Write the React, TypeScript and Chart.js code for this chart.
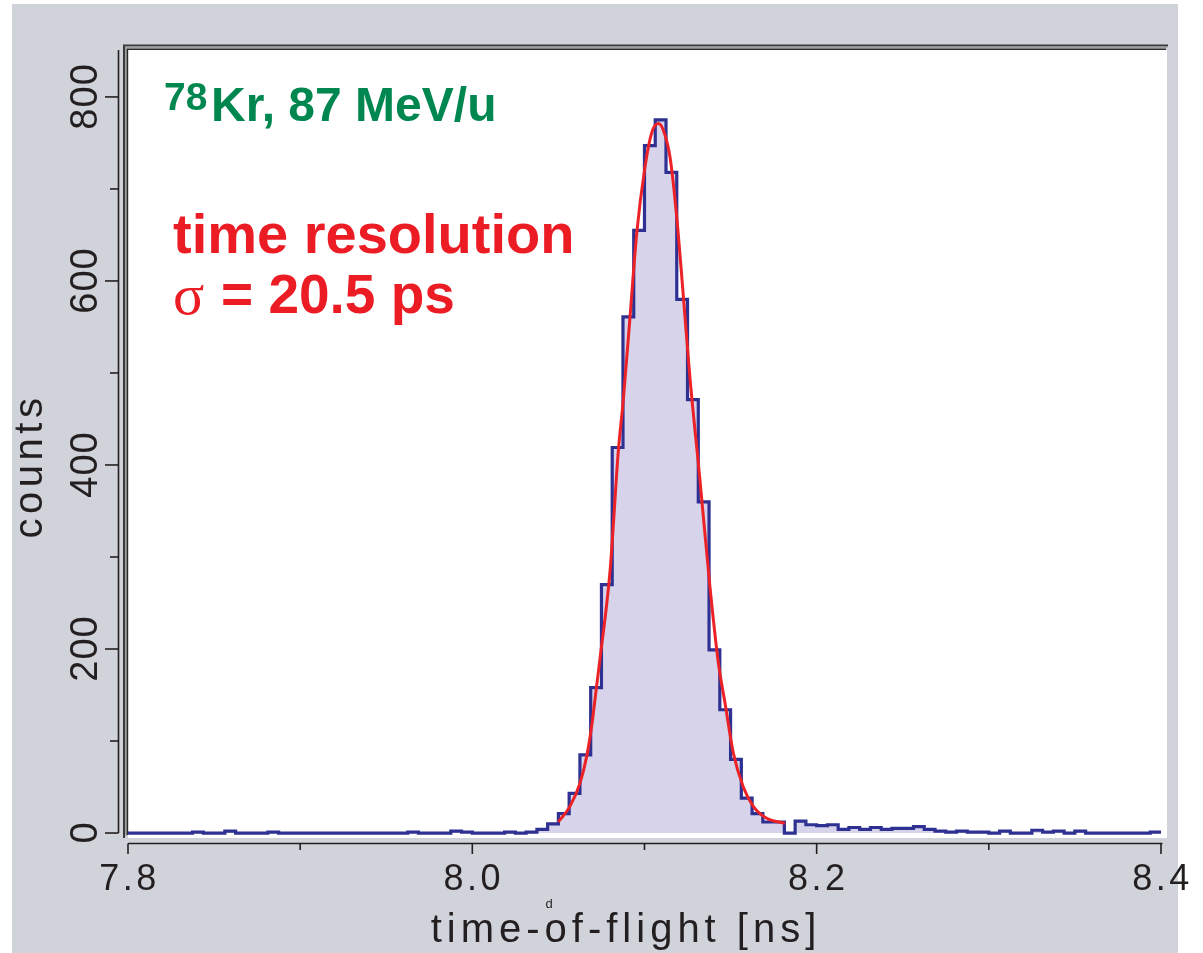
import React, { useEffect, useRef } from 'react';
import { Chart, registerables } from 'chart.js';

Chart.register(...registerables);

// ---- data ----
const binStart = 7.8; // ns, left edge of first bin
const binWidth = 0.00625; // ns
const counts = [
  0, 0, 0, 0, 0, 0, 1, 0, 0, 2,
  0, 0, 0, 1, 0, 0, 0, 0, 0, 0,
  0, 0, 0, 0, 0, 0, 1, 0, 0, 0,
  2, 1, 0, 0, 0, 1, 0, 1, 4, 10,
  21, 43, 85, 158, 270, 419, 561, 655, 747, 775,
  718, 580, 471, 360, 199, 134, 80, 38, 21, 12,
  12, 0, 13, 9, 8, 9, 4, 6, 4, 6,
  4, 5, 5, 7, 4, 2, 1, 2, 1, 1,
  0, 2, 0, 0, 3, 1, 2, 0, 2, 0,
  0, 0, 0, 0, 0, 1,
];
const fitX = [
  8.0499, 8.0567, 8.0625, 8.0664, 8.0693, 8.0722, 8.0742, 8.08, 8.0848, 8.0877,
  8.0916, 8.0955, 8.1003, 8.1042, 8.108, 8.1109, 8.1148, 8.1187, 8.1225, 8.1264,
  8.1322, 8.138, 8.1429, 8.1468, 8.1516, 8.1574, 8.1632, 8.171, 8.1816,
];
const fitY = [
  12, 29, 54, 83, 116, 160, 190, 285, 415, 471,
  561, 652, 724, 761, 771, 764, 735, 670, 585, 495,
  384, 268, 185, 141, 87, 50, 29, 16, 10.5,
];
const xMajorTicks = [7.8, 8.0, 8.2, 8.4];
const xMajorLabels = ['7.8', '8.0', '8.2', '8.4'];
const xMinorTicks = [7.9, 8.1, 8.3];
const yMajorTicks = [0, 200, 400, 600, 800];
const yMajorLabels = ['0', '200', '400', '600', '800'];
const yMinorTicks = [100, 300, 500, 700];
const xTitle = 'time-of-flight [ns]';
const yTitle = 'counts';
const beamSup = '78';
const beamText = 'Kr, 87 MeV/u';
const resLine1 = 'time resolution';
const sigmaSym = 'σ';
const resLine2 = '= 20.5 ps';

const W = 1203;
const H = 953;
const SANS = '"Liberation Sans", Arial, Helvetica, sans-serif';

export default function App() {
  const ref = useRef<HTMLCanvasElement>(null);

  useEffect(() => {
    const canvas = ref.current;
    if (!canvas) return;

    const histData = counts.map((c, i) => ({ x: binStart + i * binWidth, y: c }));
    histData.push({ x: binStart + counts.length * binWidth, y: counts[counts.length - 1] });
    const fitData = fitX.map((x, i) => ({ x, y: fitY[i] }));

    const decor = {
      id: 'decor',
      beforeDraw(chart: any) {
        const ctx = chart.ctx as CanvasRenderingContext2D;
        const a = chart.chartArea;
        ctx.save();
        ctx.fillStyle = '#ffffff';
        ctx.fillRect(0, 0, W, H);
        ctx.fillStyle = '#d0d3da';
        ctx.fillRect(12, 4, 1166, H - 4);
        ctx.fillStyle = '#ffffff';
        ctx.fillRect(a.left, a.top, a.right - a.left, a.bottom - a.top);
        // 3D double frame on left and top
        ctx.lineCap = 'butt';
        ctx.strokeStyle = '#3a3a3a';
        ctx.lineWidth = 2;
        ctx.beginPath();
        ctx.moveTo(124, a.bottom);
        ctx.lineTo(124, 45.5);
        ctx.lineTo(a.right + 1, 45.5);
        ctx.stroke();
        ctx.strokeStyle = '#a0a0a0';
        ctx.lineWidth = 1.5;
        ctx.beginPath();
        ctx.moveTo(125.8, a.bottom - 2);
        ctx.lineTo(125.8, 47.3);
        ctx.lineTo(a.right, 47.3);
        ctx.stroke();
        ctx.strokeStyle = '#2a2a2a';
        ctx.lineWidth = 1.6;
        ctx.beginPath();
        ctx.moveTo(127.4, a.bottom - 3);
        ctx.lineTo(127.4, 49.2);
        ctx.lineTo(a.right - 1, 49.2);
        ctx.stroke();
        ctx.restore();
      },
      afterDraw(chart: any) {
        const ctx = chart.ctx as CanvasRenderingContext2D;
        const xs = chart.scales.x;
        const ys = chart.scales.y;
        const a = chart.chartArea;
        ctx.save();
        ctx.strokeStyle = '#231f20';
        ctx.fillStyle = '#231f20';
        ctx.lineWidth = 1.6;

        // y axis
        const yAxisX = 118.5;
        const y0 = ys.getPixelForValue(0);
        ctx.beginPath();
        ctx.moveTo(yAxisX, a.top);
        ctx.lineTo(yAxisX, y0);
        ctx.stroke();
        yMajorTicks.forEach((v) => {
          const p = ys.getPixelForValue(v);
          ctx.beginPath();
          ctx.moveTo(105, p);
          ctx.lineTo(yAxisX, p);
          ctx.stroke();
        });
        yMinorTicks.forEach((v) => {
          const p = ys.getPixelForValue(v);
          ctx.beginPath();
          ctx.moveTo(110, p);
          ctx.lineTo(yAxisX, p);
          ctx.stroke();
        });

        // x axis
        const xAxisY = 843.5;
        const xL = xs.getPixelForValue(xMajorTicks[0]);
        const xR = xs.getPixelForValue(xMajorTicks[xMajorTicks.length - 1]);
        ctx.beginPath();
        ctx.moveTo(xL, xAxisY);
        ctx.lineTo(xR + 1.5, xAxisY);
        ctx.stroke();
        xMajorTicks.forEach((v) => {
          const p = xs.getPixelForValue(v);
          ctx.beginPath();
          ctx.moveTo(p, xAxisY);
          ctx.lineTo(p, 854);
          ctx.stroke();
        });
        xMinorTicks.forEach((v) => {
          const p = xs.getPixelForValue(v);
          ctx.beginPath();
          ctx.moveTo(p, xAxisY);
          ctx.lineTo(p, 850);
          ctx.stroke();
        });

        // x tick labels
        ctx.font = `36px ${SANS}`;
        (ctx as any).letterSpacing = '3.5px';
        ctx.textAlign = 'center';
        ctx.textBaseline = 'alphabetic';
        xMajorTicks.forEach((v, i) => {
          const p = xs.getPixelForValue(v);
          ctx.fillText(xMajorLabels[i], p + 1.5, 890);
        });

        // y tick labels (rotated)
        (ctx as any).letterSpacing = '1px';
        yMajorTicks.forEach((v, i) => {
          const p = ys.getPixelForValue(v);
          ctx.save();
          ctx.translate(97, p);
          ctx.rotate(-Math.PI / 2);
          ctx.font = `38px ${SANS}`;
          ctx.fillText(yMajorLabels[i], 0.5, 0);
          ctx.restore();
        });

        // axis titles
        ctx.save();
        ctx.translate(42, 468);
        ctx.rotate(-Math.PI / 2);
        ctx.font = `40px ${SANS}`;
        (ctx as any).letterSpacing = '4.5px';
        ctx.fillText(yTitle, 2, 0);
        ctx.restore();

        ctx.font = `40px ${SANS}`;
        (ctx as any).letterSpacing = '5px';
        ctx.fillText(xTitle, 626, 942);
        (ctx as any).letterSpacing = '0px';
        ctx.font = `13px ${SANS}`;
        ctx.fillText('d', 549, 908);

        // annotations
        ctx.textAlign = 'left';
        ctx.fillStyle = '#00874f';
        ctx.font = `bold 39px ${SANS}`;
        ctx.fillText(beamSup, 164, 110);
        ctx.font = `bold 48px ${SANS}`;
        ctx.fillText(beamText, 211, 121);

        ctx.fillStyle = '#ec1c24';
        ctx.font = `bold 56px ${SANS}`;
        ctx.fillText(resLine1, 173, 253);
        ctx.font = `58px "Liberation Serif", "DejaVu Serif", serif`;
        ctx.fillText(sigmaSym, 173, 314);
        ctx.font = `bold 55px ${SANS}`;
        ctx.fillText(resLine2, 221, 313);
        ctx.restore();
      },
    };

    const chart = new Chart(canvas, {
      type: 'line',
      data: {
        datasets: [
          {
            label: 'fit',
            data: fitData,
            borderColor: '#ec2227',
            borderWidth: 3,
            pointRadius: 0,
            fill: false,
            cubicInterpolationMode: 'monotone',
            order: 1,
          },
          {
            label: 'counts',
            data: histData,
            borderColor: '#2e3192',
            borderWidth: 3.2,
            backgroundColor: '#d6d3ea',
            pointRadius: 0,
            stepped: 'before',
            fill: 'origin',
            order: 2,
          },
        ],
      } as any,
      options: {
        responsive: false,
        animation: false,
        events: [],
        layout: { padding: { left: 128, top: 50, right: W - 1167, bottom: H - 838 } },
        plugins: { legend: { display: false }, tooltip: { enabled: false }, title: { display: false } },
        scales: {
          x: { type: 'linear', min: 7.8, max: 8.4035, display: false },
          y: { type: 'linear', min: -5.4, max: 851, display: false },
        },
      } as any,
      plugins: [decor],
    });

    return () => chart.destroy();
  }, []);

  return (
    <div style={{ position: 'absolute', left: 0, top: 0, width: W, height: H }}>
      <canvas ref={ref} width={W} height={H} style={{ display: 'block', width: W, height: H }} />
    </div>
  );
}
